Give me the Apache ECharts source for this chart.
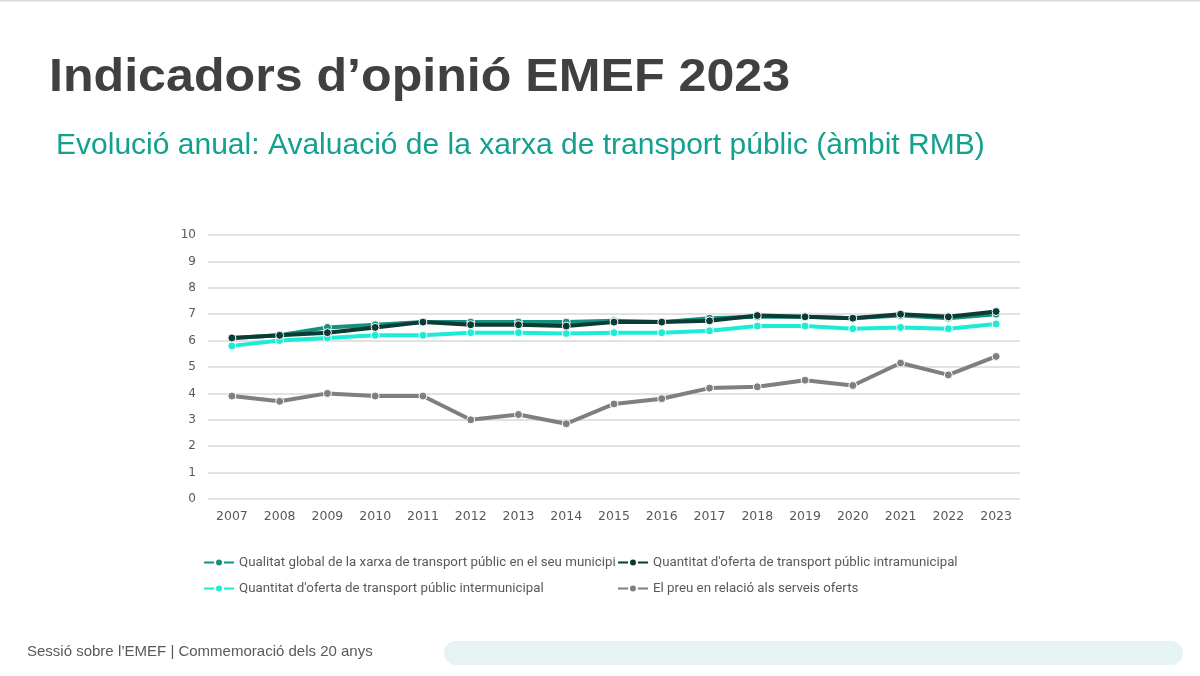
<!DOCTYPE html>
<html>
<head>
<meta charset="utf-8">
<script src="https://cdn.jsdelivr.net/npm/echarts@6/dist/echarts.min.js"></script>
<style>
  html, body { margin: 0; padding: 0; background: #fff; }
  #chart { width: 1200px; height: 676px; }
</style>
</head>
<body>
<div id="chart"></div>
<script>
// dades llegides del gràfic
const years = ['2007', '2008', '2009', '2010', '2011', '2012', '2013', '2014', '2015',
  '2016', '2017', '2018', '2019', '2020', '2021', '2022', '2023'];
const qualitatGlobal = [6.1, 6.2, 6.5, 6.6, 6.7, 6.7, 6.7, 6.7, 6.75, 6.7, 6.85, 6.9, 6.9, 6.85, 6.95, 6.85, 7.0];
const ofertaIntra = [6.1, 6.2, 6.3, 6.5, 6.7, 6.6, 6.6, 6.55, 6.7, 6.7, 6.75, 6.95, 6.9, 6.85, 7.0, 6.9, 7.1];
const ofertaInter = [5.8, 6.0, 6.1, 6.2, 6.2, 6.3, 6.3, 6.27, 6.3, 6.3, 6.37, 6.55, 6.55, 6.45, 6.5, 6.45, 6.63];
const preuServeis = [3.9, 3.7, 4.0, 3.9, 3.9, 3.0, 3.2, 2.85, 3.6, 3.8, 4.2, 4.25, 4.5, 4.3, 5.15, 4.7, 5.4];

const names = [
  'Qualitat global de la xarxa de transport públic en el seu municipi',
  'Quantitat d\'oferta de transport públic intramunicipal',
  'Quantitat d\'oferta de transport públic intermunicipal',
  'El preu en relació als serveis oferts'
];
const colors = ['#17917F', '#0B3B34', '#1CEBD6', '#7F7F7F'];

const chart = echarts.init(document.getElementById('chart'));

const mkSeries = (i, data, z) => ({
  name: names[i],
  type: 'line',
  data: data,
  z: z,
  symbol: 'circle',
  symbolSize: 8,
  lineStyle: { width: 4, color: colors[i] },
  itemStyle: { color: colors[i], borderColor: '#fff', borderWidth: 1 }
});

const legendBase = {
  orient: 'vertical',
  itemWidth: 30,
  itemHeight: 10,
  itemGap: 13,
  textStyle: { color: '#595959', fontSize: 13.3, fontFamily: 'Roboto, Arial, sans-serif' }
};

const sans = '"Liberation Sans", Arial, sans-serif';

chart.setOption({
  animation: false,
  backgroundColor: '#fff',
  graphic: [
    { type: 'rect', shape: { x: 0, y: 0, width: 1200, height: 1.5 }, style: { fill: '#d9d9d9' } },
    { type: 'rect', shape: { x: 444, y: 641, width: 739, height: 24, r: 12 }, style: { fill: '#E5F3F2' } },
    {
      type: 'text', x: 49, y: 78, scaleX: 1.09,
      style: {
        text: 'Indicadors d’opinió EMEF 2023', fill: '#404040',
        font: 'bold 46px ' + sans, verticalAlign: 'middle'
      }
    },
    {
      type: 'text', x: 56, y: 146, scaleX: 1.035,
      style: {
        text: 'Evolució anual: Avaluació de la xarxa de transport públic (àmbit RMB)', fill: '#13A08F',
        font: '29px ' + sans, verticalAlign: 'middle'
      }
    },
    {
      type: 'text', x: 27, y: 652, scaleX: 1.0,
      style: {
        text: 'Sessió sobre l’EMEF | Commemoració dels 20 anys', fill: '#595959',
        font: '15px ' + sans, verticalAlign: 'middle'
      }
    }
  ],
  legend: [
    Object.assign({}, legendBase, { left: 198, top: 551, data: [names[0], names[2]] }),
    Object.assign({}, legendBase, { left: 612, top: 551, data: [names[1], names[3]] })
  ],
  grid: { left: 208, right: 180, top: 235, bottom: 177 },
  xAxis: {
    type: 'category',
    data: years,
    axisLine: { show: false },
    axisTick: { show: false },
    axisLabel: { color: '#595959', fontSize: 12.5, margin: 11, fontFamily: '"DejaVu Sans", sans-serif' }
  },
  yAxis: {
    type: 'value',
    min: 0, max: 10, interval: 1,
    axisLine: { show: false },
    axisTick: { show: false },
    axisLabel: { color: '#595959', fontSize: 12, margin: 12, fontFamily: '"DejaVu Sans", sans-serif' },
    splitLine: { lineStyle: { color: '#d9d9d9', width: 1.5 } }
  },
  series: [
    mkSeries(0, qualitatGlobal, 2),
    mkSeries(1, ofertaIntra, 3),
    mkSeries(2, ofertaInter, 2),
    mkSeries(3, preuServeis, 2)
  ]
});

window.addEventListener('resize', () => chart.resize());
</script>
</body>
</html>
